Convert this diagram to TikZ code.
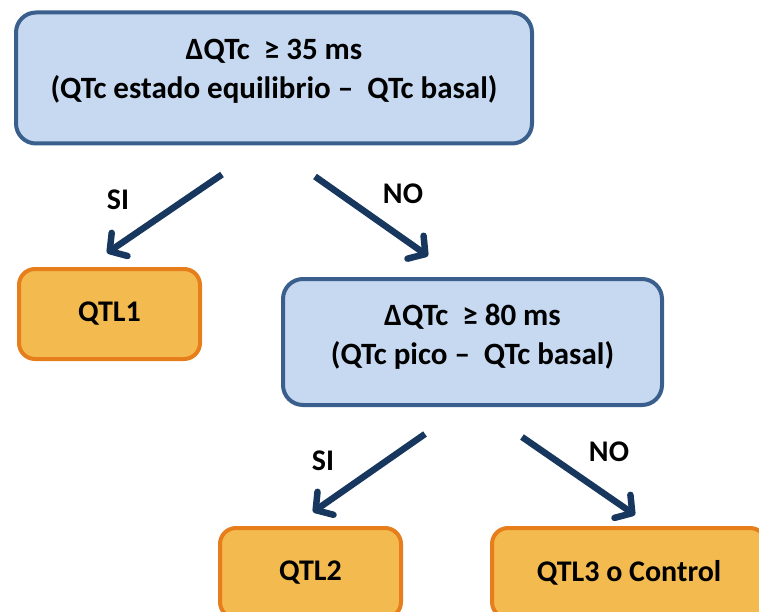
\documentclass[tikz,border=0pt]{standalone}
\usepackage{fontspec}
\setmainfont{Carlito}
\usetikzlibrary{arrows.meta,calc}
\definecolor{boxblue}{HTML}{C6D9F1}
\definecolor{lineblue}{HTML}{3B5F8C}
\definecolor{boxorange}{HTML}{F3BB4F}
\definecolor{lineorange}{HTML}{E67E1C}
\definecolor{arrownavy}{HTML}{17375E}

\begin{document}
\begin{tikzpicture}[x=1pt,y=-1pt]
\tikzstyle{question}=[rectangle,rounded corners=20pt,draw=lineblue,fill=boxblue,line width=4pt,align=center,font=\bfseries\fontsize{31}{39}\selectfont]
\tikzstyle{result}=[rectangle,rounded corners=16pt,draw=lineorange,fill=boxorange,line width=4pt,font=\bfseries\fontsize{30}{34}\selectfont]
\tikzstyle{branch}=[draw=arrownavy,line width=6.5pt,-{Straight Barb[length=12pt,width=28pt,round]}]
\tikzstyle{answer}=[font=\bfseries\fontsize{30}{34}\selectfont]
\clip (0,0) rectangle (759,612);
\node[question,minimum width=516pt,minimum height=131pt,text depth=19pt] (1) at (274,78) {ΔQTc\ \ ≥ 35 ms\\(QTc estado equilibrio --\ \ QTc basal)};
\node[result,minimum width=181pt,minimum height=90pt] (2) at (109.5,314) {QTL1};
\node[question,minimum width=379pt,minimum height=126pt,text depth=15pt] (3) at (472.5,342) {ΔQTc\ \ ≥ 80 ms\\(QTc pico --\ \ QTc basal)};
\node[result,minimum width=181pt,minimum height=90pt] (4) at (310.5,573) {QTL2};
\node[result,minimum width=274pt,minimum height=90pt] (5) at (629,573) {QTL3 o Control};
\node[answer] (s1) at (118,200) {SI};
\node[answer] (n1) at (403,194) {NO};
\node[answer] (s2) at (323,461) {SI};
\node[answer] (n2) at (609,452) {NO};
\draw[branch] ($(1.south)+(-52,29)$) -- ($(2.north)+(-2.5,-14)$);
\draw[branch] ($(1.south)+(41,31)$) -- ($(3.north)+(-44.5,-21)$);
\draw[branch] ($(3.south)+(-47.5,27)$) -- ($(4.north)+(2.5,-14)$);
\draw[branch] ($(3.south)+(49.5,30)$) -- ($(5.north)+(6,-11)$);
\end{tikzpicture}
\end{document}
